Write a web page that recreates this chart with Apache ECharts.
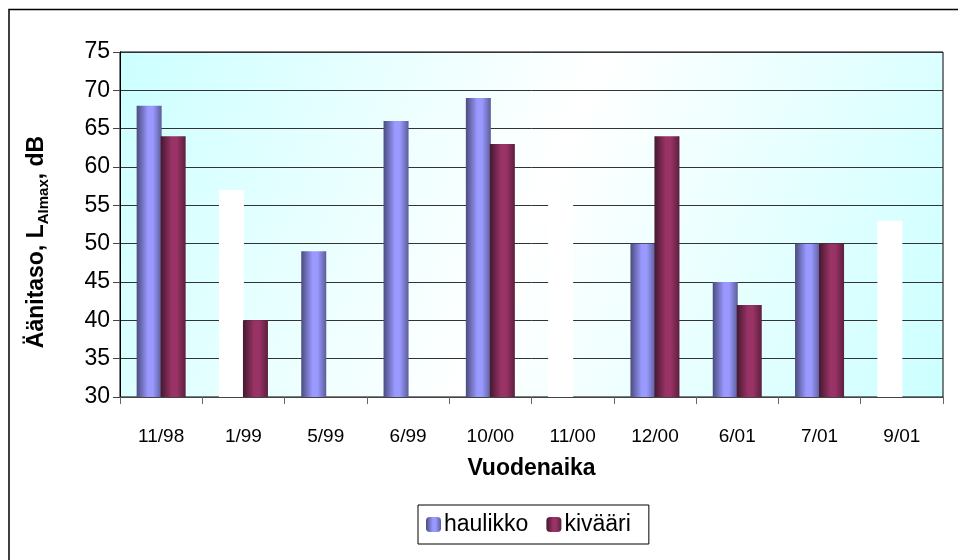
<!DOCTYPE html>
<html>
<head>
<meta charset="utf-8">
<script src="https://cdn.jsdelivr.net/npm/echarts@6/dist/echarts.min.js"></script>
<style>
  html, body { margin: 0; padding: 0; background: #fff; }
  #main { width: 960px; height: 560px; }
</style>
</head>
<body>
<div id="main"></div>
<script>
// mittausajankohdat
const categories = ['11/98', '1/99', '5/99', '6/99', '10/00', '11/00', '12/00', '6/01', '7/01', '9/01']
// haulikko, dB (valkoiset pylväät merkitty erikseen)
const haulikko = [68, 57, 49, 66, 69, 56, 50, 45, 50, 53]
const haulikkoWhite = [false, true, false, false, false, true, false, false, false, true]
// kivääri, dB (null = ei mittausta)
const kivaari = [64, 40, null, null, 63, null, 64, 42, 50, null]

function barGrad (dark, light, edge) {
    return new echarts.graphic.LinearGradient(0, 0, 1, 0, [
        { offset: 0, color: dark },
        { offset: 0.45, color: light },
        { offset: 0.65, color: light },
        { offset: 1, color: edge }
    ])
}
const blueFill = barGrad('#4b4b7e', '#9999ff', '#5c5c99')
const redFill = barGrad('#45182f', '#993366', '#5c1f3d')

const chart = echarts.init(document.getElementById('main'))

const option = {
    animation: false,
    textStyle: { fontFamily: 'Liberation Sans, Arial, sans-serif', color: '#000' },
    grid: {
        left: 120,
        right: 17,
        top: 52,
        bottom: 163,
        show: true,
        borderColor: '#000',
        borderWidth: 1,
        backgroundColor: new echarts.graphic.LinearGradient(0, 0, 1, 1, [
            { offset: 0, color: '#ccffff' },
            { offset: 0.5, color: '#ffffff' },
            { offset: 1, color: '#ccffff' }
        ])
    },
    graphic: [
        {
            type: 'polyline',
            shape: { points: [[9, 562], [9, 9.5], [958, 9.5]] },
            style: { stroke: '#000', lineWidth: 1.5, fill: null }
        },
        // y-akselin otsikko alaindeksillä
        {
            type: 'text',
            x: 37,
            y: 242,
            rotation: Math.PI / 2,
            style: {
                text: '{b|Äänitaso, L}{s|AImax}{b|, dB}',
                align: 'center',
                verticalAlign: 'middle',
                rich: {
                    b: { fontSize: 23, fontWeight: 'bold', fill: '#000', lineHeight: 28, fontFamily: 'Liberation Sans, Arial, sans-serif' },
                    s: { fontSize: 15, fontWeight: 'bold', fill: '#000', lineHeight: 28, verticalAlign: 'bottom', padding: [10, 0, 0, 0], fontFamily: 'Liberation Sans, Arial, sans-serif' }
                }
            }
        }
    ],
    legend: {
        left: 418,
        top: 505,
        itemWidth: 15,
        itemHeight: 15,
        itemGap: 18,
        padding: [8, 18, 8, 8],
        borderColor: '#000',
        borderWidth: 1,
        textStyle: { fontSize: 23, color: '#000', padding: [0, 0, 0, -2] },
        data: [
            { name: 'haulikko', itemStyle: { color: blueFill } },
            { name: 'kivääri', itemStyle: { color: redFill } }
        ]
    },
    xAxis: {
        type: 'category',
        data: categories,
        name: 'Vuodenaika',
        nameLocation: 'middle',
        nameGap: 60,
        nameTextStyle: { fontSize: 23, fontWeight: 'bold', color: '#000' },
        axisLine: { lineStyle: { color: '#444', width: 1 } },
        axisTick: { show: true, length: 7, lineStyle: { color: '#666' } },
        axisLabel: { fontSize: 19, color: '#000', margin: 30 }
    },
    yAxis: {
        type: 'value',
        min: 30,
        max: 75,
        interval: 5,
        axisLine: { show: true, lineStyle: { color: '#000', width: 1 } },
        axisTick: { show: true, length: 7, lineStyle: { color: '#444' } },
        axisLabel: { fontSize: 23, color: '#000', margin: 10 },
        splitLine: { lineStyle: { color: '#333', width: 1 } }
    },
    series: [
        {
            name: 'haulikko',
            type: 'bar',
            barWidth: 25,
            barGap: '-4%',
            data: haulikko.map((v, i) => ({
                value: v,
                itemStyle: { color: haulikkoWhite[i] ? '#ffffff' : blueFill }
            })),
            itemStyle: { color: blueFill }
        },
        {
            name: 'kivääri',
            type: 'bar',
            barWidth: 25,
            barGap: '-4%',
            data: kivaari,
            itemStyle: { color: redFill }
        }
    ]
}
chart.setOption(option)
</script>
</body>
</html>
